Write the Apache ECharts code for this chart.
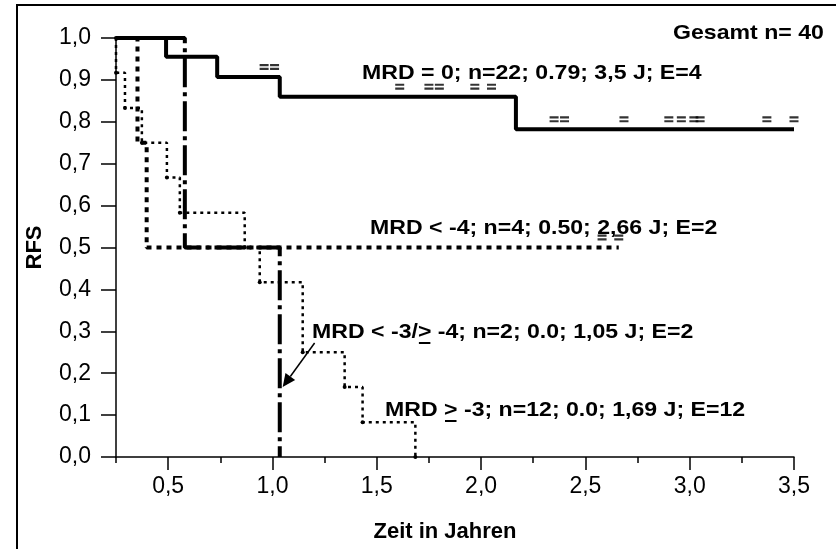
<!DOCTYPE html>
<html>
<head>
<meta charset="utf-8">
<script src="https://cdn.jsdelivr.net/npm/echarts@6/dist/echarts.min.js"></script>
<style>
html, body { margin: 0; padding: 0; background: #fff; }
#chart { width: 836px; height: 549px; }
</style>
</head>
<body>
<div id="chart"></div>
<script>
'use strict';

var xMajorTicks = [0.5, 1.0, 1.5, 2.0, 2.5, 3.0, 3.5];
var xMinorTicks = [0.25, 0.75, 1.25, 1.75, 2.25, 2.75, 3.25];

// step points [Jahre, RFS], drawn with step 'end'
var mrd0 = [[0.25, 1], [0.49, 0.955], [0.735, 0.907], [1.035, 0.86], [2.167, 0.782], [3.5, 0.782]];
var mrd0Censored = [[0.96, 0.907], [1.01, 0.907], [1.61, 0.86], [1.75, 0.86], [1.8, 0.86], [1.97, 0.86],
    [2.05, 0.86], [2.35, 0.782], [2.4, 0.782], [2.685, 0.782], [2.9, 0.782], [2.96, 0.782],
    [3.02, 0.782], [3.05, 0.782], [3.37, 0.782], [3.5, 0.782]];
var mrdLt4 = [[0.25, 1], [0.353, 0.75], [0.397, 0.5], [2.66, 0.5]];
var mrdLt4Censored = [[2.58, 0.5], [2.66, 0.5]];
var mrdLt3 = [[0.25, 1], [0.58, 0.5], [1.035, 0]];
var mrdGe3 = [[0.25, 1], [0.25, 0.917], [0.293, 0.833], [0.374, 0.75], [0.494, 0.667], [0.556, 0.583],
    [0.867, 0.5], [0.939, 0.417], [1.145, 0.25], [1.346, 0.167], [1.432, 0.083], [1.685, 0]];

var labelTexts = [
    'Gesamt n= 40',
    'MRD = 0; n=22; 0.79; 3,5 J; E=4',
    'MRD < -4; n=4; 0.50; 2,66 J; E=2',
    'MRD < -3/> -4; n=2; 0.0; 1,05 J; E=2',
    'MRD > -3; n=12; 0.0; 1,69 J; E=12'
];
// index of the '>' that is underlined (shown as >=), -1 for none
var underlined = [-1, -1, -1, 9, 4];
// arrow from label to the dash-dot curve, in data coords
var arrowFrom = [1.202, 0.272];
var arrowTo = [1.049, 0.167];

var FONT = '"Liberation Sans", Arial, sans-serif';
var censorMark = 'path://M0,0H10V2.4H0Z M0,4.2H10V6.6H0Z';

var chart = echarts.init(document.getElementById('chart'));

function comma(v) {
    return v.toFixed(1).replace('.', ',');
}

var option = {
    backgroundColor: '#fff',
    animation: false,
    grid: { left: 116, right: 42, top: 38, bottom: 92, outerBoundsMode: 'none' },
    xAxis: [{
        type: 'value',
        min: 0.25,
        max: 3.5,
        position: 'bottom',
        name: 'Zeit in Jahren',
        nameLocation: 'middle',
        nameGap: 64,
        nameTextStyle: { fontFamily: FONT, fontWeight: 'bold', fontSize: 22, color: '#000', padding: [0, 20, 0, 0] },
        axisLine: { lineStyle: { color: '#000', width: 1.5 } },
        axisTick: { customValues: xMajorTicks, length: 13, lineStyle: { color: '#000', width: 1.5 } },
        axisLabel: {
            customValues: xMajorTicks,
            margin: 18,
            fontFamily: FONT,
            fontSize: 23,
            color: '#000',
            formatter: comma
        },
        splitLine: { show: false }
    }, {
        type: 'value',
        min: 0.25,
        max: 3.5,
        position: 'bottom',
        axisLine: { show: false },
        axisTick: { customValues: xMinorTicks, length: 6, lineStyle: { color: '#000', width: 1.5 } },
        axisLabel: { show: false },
        splitLine: { show: false }
    }],
    yAxis: {
        type: 'value',
        min: 0,
        max: 1,
        interval: 0.1,
        name: 'RFS',
        nameLocation: 'middle',
        nameGap: 70,
        nameTextStyle: { fontFamily: FONT, fontWeight: 'bold', fontSize: 22, color: '#000' },
        axisLine: { show: true, lineStyle: { color: '#000', width: 1.5 } },
        axisTick: { show: true, length: 15, lineStyle: { color: '#000', width: 1.5 } },
        axisLabel: { margin: 25, fontFamily: FONT, fontSize: 23, color: '#000', formatter: comma },
        splitLine: { show: false }
    },
    series: [{
        name: 'MRD = 0',
        type: 'line',
        step: 'end',
        data: mrd0,
        showSymbol: false,
        lineStyle: { color: '#000', width: 4 },
        z: 5
    }, {
        name: 'MRD < -4',
        type: 'line',
        step: 'end',
        data: mrdLt4,
        showSymbol: false,
        lineStyle: { color: '#000', width: 4, type: [5, 5], cap: 'butt' }
    }, {
        name: 'MRD < -3/>= -4',
        type: 'line',
        step: 'end',
        data: mrdLt3,
        showSymbol: false,
        lineStyle: { color: '#000', width: 4, type: [30, 5, 4, 5], cap: 'butt' }
    }, {
        name: 'MRD >= -3',
        type: 'line',
        step: 'end',
        data: mrdGe3,
        symbol: 'circle',
        symbolSize: 4,
        itemStyle: { color: '#000' },
        lineStyle: { color: '#000', width: 2.5, type: [3, 4], cap: 'butt' }
    }, {
        type: 'scatter',
        data: mrd0Censored,
        symbol: censorMark,
        symbolSize: [9, 6],
        symbolOffset: [0, -10],
        itemStyle: { color: '#000' },
        silent: true
    }, {
        type: 'scatter',
        data: mrdLt4Censored,
        symbol: censorMark,
        symbolSize: [9, 6],
        symbolOffset: [0, -10],
        itemStyle: { color: '#000' },
        silent: true
    }]
};

chart.setOption(option);

// annotation layout: left x, middle y (pixels)
var labelPos = [[673, 33], [362, 73], [370, 228], [312, 332], [385, 410]];
var labelSize = 21;
var labelScale = 1.1;

var measure = document.createElement('canvas').getContext('2d');
measure.font = 'bold ' + labelSize + 'px ' + FONT;

var graphics = [{
    type: 'rect',
    shape: { x: 17, y: 5, width: 900, height: 700 },
    style: { fill: 'none', stroke: '#000', lineWidth: 2 },
    silent: true
}];

labelTexts.forEach(function (txt, i) {
    var p = labelPos[i];
    graphics.push({
        type: 'text',
        x: p[0],
        y: p[1],
        scaleX: labelScale,
        style: {
            text: txt,
            fontFamily: FONT,
            fontWeight: 'bold',
            fontSize: labelSize,
            fill: '#000',
            textVerticalAlign: 'middle'
        },
        z: 10
    });
    if (underlined[i] >= 0) {
        var x0 = p[0] + measure.measureText(txt.slice(0, underlined[i])).width * labelScale;
        var x1 = x0 + measure.measureText('>').width * labelScale;
        graphics.push({
            type: 'line',
            shape: { x1: x0 + 1, y1: p[1] + 11, x2: x1 - 1, y2: p[1] + 11 },
            style: { stroke: '#000', lineWidth: 2 },
            z: 10
        });
    }
});

// arrow
var a = chart.convertToPixel({ gridIndex: 0 }, arrowFrom);
var b = chart.convertToPixel({ gridIndex: 0 }, arrowTo);
var dx = b[0] - a[0], dy = b[1] - a[1];
var len = Math.sqrt(dx * dx + dy * dy);
var ux = dx / len, uy = dy / len;
var headLen = 13, headW = 6;
var base = [b[0] - ux * headLen, b[1] - uy * headLen];
graphics.push({
    type: 'line',
    shape: { x1: a[0], y1: a[1], x2: base[0], y2: base[1] },
    style: { stroke: '#000', lineWidth: 1.5 },
    z: 10
});
graphics.push({
    type: 'polygon',
    shape: {
        points: [
            b,
            [base[0] - uy * headW, base[1] + ux * headW],
            [base[0] + uy * headW, base[1] - ux * headW]
        ]
    },
    style: { fill: '#000' },
    z: 10
});

chart.setOption({ graphic: graphics });
</script>
</body>
</html>
